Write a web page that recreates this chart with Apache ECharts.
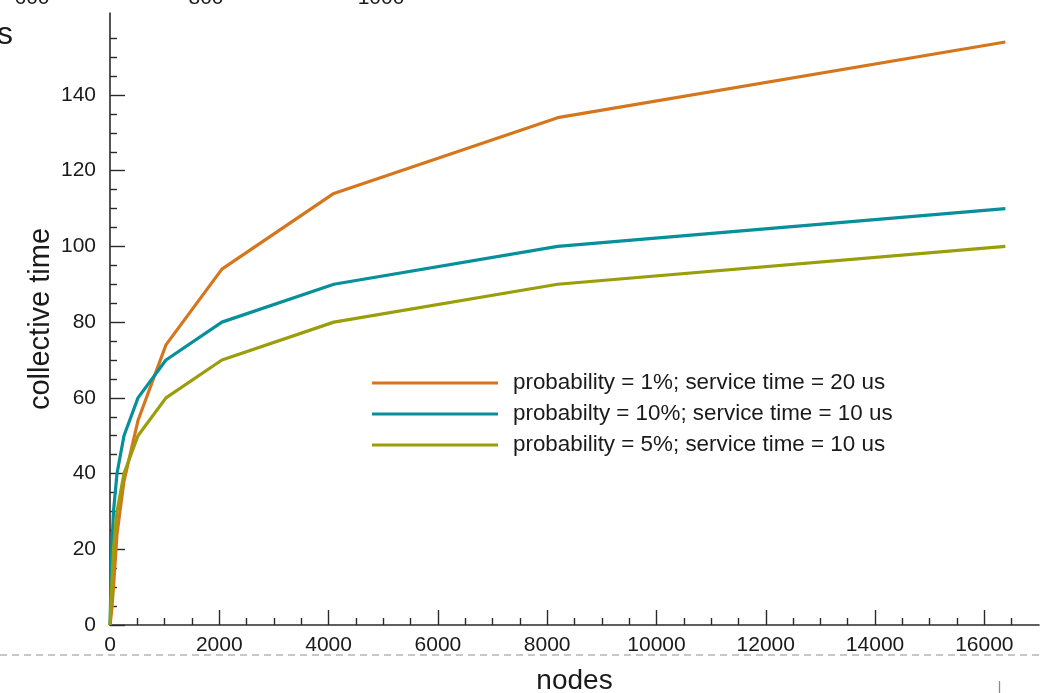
<!DOCTYPE html>
<html>
<head>
<meta charset="utf-8">
<script src="https://cdn.jsdelivr.net/npm/echarts@6/dist/echarts.min.js"></script>
<style>
html,body{margin:0;padding:0;background:#fff;}
#chart{width:1040px;height:693px;}
</style>
</head>
<body>
<div id="chart"></div>
<script>
// ---- data ----
const nodes = [1, 2, 4, 8, 16, 32, 64, 128, 256, 512, 1024, 2048, 4096, 8192, 16384];
const prob1_svc20 = [0, 0, 0, 0, 0, 4, 10, 24, 38, 54, 74, 94, 114, 134, 154];
const prob10_svc10 = [0, 0, 0, 0, 10, 20, 30, 40, 50, 60, 70, 80, 90, 100, 110];
const prob5_svc10 = [0, 0, 0, 0, 0, 10, 20, 30, 40, 50, 60, 70, 80, 90, 100];
const seriesNames = [
  'probability = 1%; service time = 20 us',
  'probabilty = 10%; service time = 10 us',
  'probability = 5%; service time = 10 us'
];
const xMajorTicks = [0, 2000, 4000, 6000, 8000, 10000, 12000, 14000, 16000];
const xMinorTicks = [500, 1000, 1500, 2500, 3000, 3500, 4500, 5000, 5500, 6500, 7000, 7500,
  8500, 9000, 9500, 10500, 11000, 11500, 12500, 13000, 13500, 14500, 15000, 15500, 16500];
const yMajorTicks = [0, 20, 40, 60, 80, 100, 120, 140];
const yMinorTicks = [5, 10, 15, 25, 30, 35, 45, 50, 55, 65, 70, 75, 85, 90, 95,
  105, 110, 115, 125, 130, 135, 145, 150, 155];
const neighbourTopLabels = ['600', '800', '1000'];

// ---- chart ----
const FONT = '"Liberation Sans", Arial, Helvetica, sans-serif';
const TXT = '#1a1a1a';
const AX = '#2a2a2a';
const colors = ['#D6761C', '#07909B', '#9A9E0A'];
const X_MAX = 17000, Y_MAX = 161.65;

const pairs = arr => nodes.map((n, i) => [n, arr[i]]);

const chart = echarts.init(document.getElementById('chart'), null, {renderer: 'canvas'});
chart.setOption({
  animation: false,
  backgroundColor: '#fff',
  textStyle: {fontFamily: FONT, color: TXT},
  grid: {left: 110, top: 13, right: 1, bottom: 68, containLabel: false, outerBoundsMode: 'none'},
  xAxis: [{
    type: 'value', min: 0, max: X_MAX,
    name: 'nodes', nameLocation: 'middle', nameGap: 42, nameMoveOverlap: false,
    nameTextStyle: {fontSize: 28, color: TXT, fontFamily: FONT},
    axisLine: {show: true, onZero: false, lineStyle: {color: AX, width: 1.6}},
    axisTick: {show: true, inside: true, length: 15, customValues: xMajorTicks, lineStyle: {color: AX, width: 1.4}},
    axisLabel: {customValues: xMajorTicks, fontSize: 21, color: TXT, margin: 10, fontFamily: FONT,
      formatter: v => String(v)},
    splitLine: {show: false}
  }, {
    type: 'value', min: 0, max: X_MAX, position: 'bottom',
    axisLine: {show: false},
    axisTick: {show: true, inside: true, length: 7, customValues: xMinorTicks, lineStyle: {color: AX, width: 1.4}},
    axisLabel: {show: false},
    splitLine: {show: false}
  }],
  yAxis: [{
    type: 'value', min: 0, max: Y_MAX,
    name: 'collective time', nameLocation: 'middle', nameGap: 55, nameRotate: 90, nameMoveOverlap: false,
    nameTextStyle: {fontSize: 29, color: TXT, fontFamily: FONT},
    axisLine: {show: true, onZero: false, lineStyle: {color: AX, width: 1.6}},
    axisTick: {show: true, inside: true, length: 15, customValues: yMajorTicks, lineStyle: {color: AX, width: 1.4}},
    axisLabel: {customValues: yMajorTicks, fontSize: 21, color: TXT, margin: 14, fontFamily: FONT,
      formatter: v => String(v)},
    splitLine: {show: false}
  }, {
    type: 'value', min: 0, max: Y_MAX, position: 'left',
    axisLine: {show: false},
    axisTick: {show: true, inside: true, length: 7, customValues: yMinorTicks, lineStyle: {color: AX, width: 1.4}},
    axisLabel: {show: false},
    splitLine: {show: false}
  }],
  legend: {
    orient: 'vertical', left: 367, top: 362.5,
    icon: 'rect', itemWidth: 126, itemHeight: 3, itemGap: 0,
    textStyle: {fontSize: 22.4, color: TXT, lineHeight: 31, padding: [0, 0, 0, 10], fontFamily: FONT},
    data: seriesNames
  },
  series: [prob1_svc20, prob10_svc10, prob5_svc10].map((arr, i) => ({
    name: seriesNames[i], type: 'line', xAxisIndex: 0, yAxisIndex: 0,
    data: pairs(arr), showSymbol: false, symbol: 'none',
    lineStyle: {color: colors[i], width: 3.2}, itemStyle: {color: colors[i]}
  })),
  graphic: [
    {type: 'line', z: -10, shape: {x1: 0, y1: 655, x2: 1040, y2: 655},
     style: {stroke: '#b5b5b5', lineWidth: 1.3, lineDash: [7, 5]}},
    {type: 'line', shape: {x1: 999.5, y1: 681, x2: 999.5, y2: 693},
     style: {stroke: '#8a8a8a', lineWidth: 1.3}},
    {type: 'text', x: 32, y: 9, style: {text: neighbourTopLabels[0], font: '21px ' + FONT, fill: TXT, textAlign: 'center', textVerticalAlign: 'bottom'}},
    {type: 'text', x: 206, y: 9, style: {text: neighbourTopLabels[1], font: '21px ' + FONT, fill: TXT, textAlign: 'center', textVerticalAlign: 'bottom'}},
    {type: 'text', x: 381, y: 9, style: {text: neighbourTopLabels[2], font: '21px ' + FONT, fill: TXT, textAlign: 'center', textVerticalAlign: 'bottom'}},
    {type: 'text', x: 13, y: 35, style: {text: 's', font: '32px ' + FONT, fill: TXT, textAlign: 'right', textVerticalAlign: 'middle'}}
  ]
});
</script>
</body>
</html>
